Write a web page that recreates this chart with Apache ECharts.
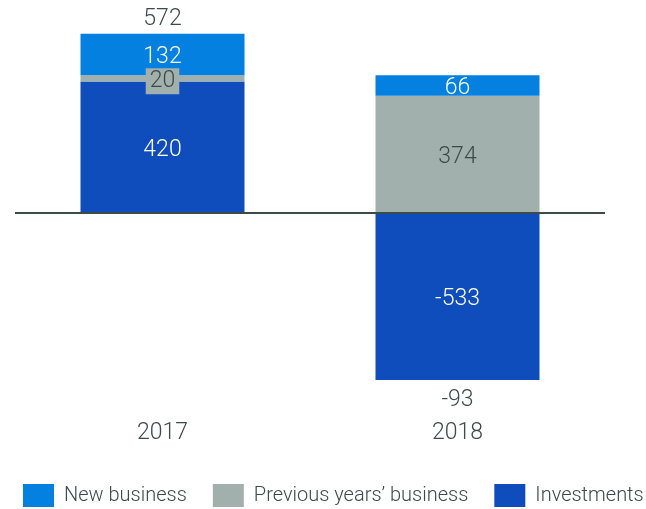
<!DOCTYPE html>
<html>
<head>
<meta charset="utf-8">
<script src="https://cdn.jsdelivr.net/npm/echarts@6/dist/echarts.min.js"></script>
<style>
  html, body { margin: 0; padding: 0; background: #fff; }
  #chart { width: 646px; height: 509px; }
</style>
</head>
<body>
<div id="chart"></div>
<script>
// Years shown on the category axis
const years = ['2017', '2018'];

// Contributions per component
const newBusiness = [132, 66];
const previousYears = [20, 374];
const investments = [420, -533];

const seriesNames = ['New business', 'Previous years\u2019 business', 'Investments'];

const colors = {
  newBusiness: '#0380e0',
  previous: '#a1b0ac',
  investments: '#0f4cbc'
};
const textDark = '#3b4b48';
const fontFamily = 'Roboto, "Liberation Sans", sans-serif';
const fontWeight = 300;

// Net total per year, placed at the outer end of the stack
const parts = [newBusiness, previousYears, investments];
const totals = years.map((_, i) => parts.reduce((s, arr) => s + arr[i], 0));
const totalPoints = years.map((_, i) => {
  const pos = parts.reduce((s, arr) => s + Math.max(arr[i], 0), 0);
  const neg = parts.reduce((s, arr) => s + Math.min(arr[i], 0), 0);
  return totals[i] >= 0 ? [i, pos] : [i, neg];
});

const chart = echarts.init(document.getElementById('chart'));

const barLabel = {
  show: true,
  position: 'inside',
  offset: [0, 3],
  color: '#ffffff',
  fontSize: 23,
  fontWeight: fontWeight,
  fontFamily: fontFamily
};

chart.setOption({
  animation: false,
  textStyle: { fontFamily: fontFamily, fontWeight: fontWeight },
  grid: { left: 15, right: 41, top: 25, bottom: 108 },
  legend: {
    top: 484,
    left: 23,
    width: 700,
    padding: 0,
    icon: 'rect',
    itemWidth: 31,
    itemHeight: 23,
    itemGap: 26,
    data: seriesNames,
    textStyle: {
      color: textDark,
      fontSize: 20,
      fontWeight: fontWeight,
      fontFamily: fontFamily,
      padding: [0, 0, 0, 5]
    }
  },
  xAxis: {
    type: 'category',
    data: years,
    position: 'bottom',
    axisLine: { show: false },
    axisTick: { show: false },
    axisLabel: { color: textDark, fontSize: 23, fontWeight: fontWeight, margin: 21 }
  },
  yAxis: {
    type: 'value',
    min: -600,
    max: 600,
    show: false,
    splitLine: { show: false }
  },
  series: [
    {
      name: seriesNames[2],
      type: 'bar',
      stack: 'total',
      barWidth: 164,
      itemStyle: { color: colors.investments },
      label: barLabel,
      data: investments,
      markLine: {
        silent: true,
        symbol: 'none',
        label: { show: false },
        lineStyle: { color: textDark, width: 2, type: 'solid' },
        data: [{ yAxis: 0 }]
      }
    },
    {
      name: seriesNames[1],
      type: 'bar',
      stack: 'total',
      barWidth: 164,
      itemStyle: { color: colors.previous },
      label: Object.assign({}, barLabel, {
        color: textDark,
        backgroundColor: colors.previous,
        padding: [3, 4, 0, 4]
      }),
      data: previousYears
    },
    {
      name: seriesNames[0],
      type: 'bar',
      stack: 'total',
      barWidth: 164,
      itemStyle: { color: colors.newBusiness },
      label: barLabel,
      data: newBusiness
    },
    {
      name: 'Total',
      type: 'scatter',
      symbolSize: 0,
      silent: true,
      itemStyle: { opacity: 1 },
      data: totalPoints.map((p, i) => ({
        value: p,
        label: {
          show: true,
          position: totals[i] >= 0 ? 'top' : 'bottom',
          distance: totals[i] >= 0 ? 3 : 9,
          formatter: String(totals[i]),
          color: textDark,
          fontSize: 23,
          fontWeight: fontWeight,
          fontFamily: fontFamily
        }
      }))
    }
  ]
});
</script>
</body>
</html>
